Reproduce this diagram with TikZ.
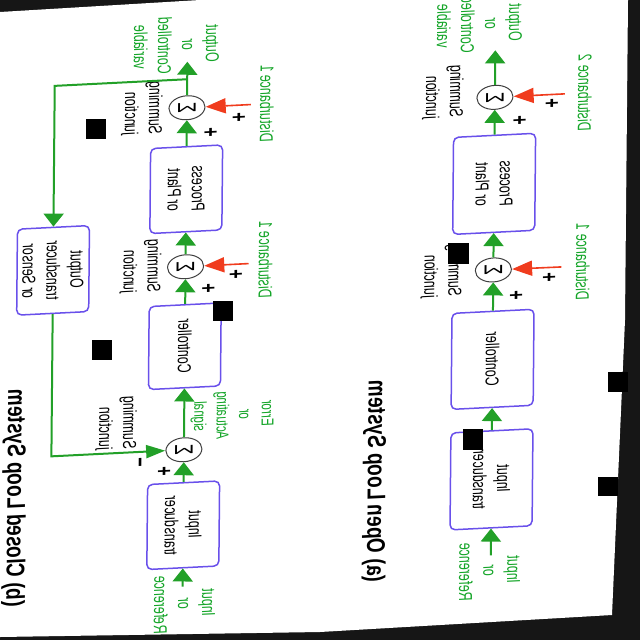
\documentclass[tikz,border=0pt]{standalone}
\usepackage{fontspec}
\setmainfont{Liberation Sans}
\usetikzlibrary{arrows.meta}

\definecolor{arrgreen}{RGB}{34,160,40}
\definecolor{lblgreen}{RGB}{20,165,40}
\definecolor{boxblue}{RGB}{105,80,235}
\definecolor{distred}{RGB}{240,60,30}
\definecolor{scanbg}{RGB}{22,22,22}

\tikzset{
	turned/.style={cm={0,1,1.5,0,(0,0)}},
	blk/.style={turned, draw=boxblue, line width=1.5pt, rounded corners=5pt, fill=white, inner sep=0pt, align=center, font=\fontsize{12.5}{16}\selectfont},
	oblk/.style={blk, minimum height=54.7pt},
	cblk/.style={blk, minimum height=48pt},
	sumj/.style={turned, circle, draw=black!75, line width=1pt, fill=white, inner sep=0pt, minimum size=24pt, font=\fontsize{17}{17}\selectfont},
	lbl/.style={turned, text=lblgreen, inner sep=0pt, align=center, font=\fontsize{12.5}{16}\selectfont},
	jlbl/.style={turned, inner sep=0pt, align=left, font=\fontsize{12.5}{16}\selectfont},
	sgn/.style={turned, inner sep=0pt, font=\fontsize{16}{16}\selectfont\bfseries},
	ttl/.style={cm={0,1,1.35,0,(0,0)}, inner sep=0pt, font=\fontsize{19}{19}\selectfont\bfseries},
	flow/.style={draw=arrgreen, line width=2pt, -{Triangle[length=13pt,width=20pt]}},
	fb/.style={draw=arrgreen, line width=2pt},
	fbin/.style={fb, -{Triangle[length=19pt,width=13pt]}},
	dist/.style={draw=distred, line width=1.6pt, -{Triangle[length=20pt,width=15pt]}},
}

\begin{document}
\begin{tikzpicture}[x=1pt, y=-1pt]
	\useasboundingbox (0,0) rectangle (640,640);
	\fill[scanbg] (0,0) rectangle (640,640);
	\fill[white] (0,12) -- (200,0) -- (628,0) -- (625,320) -- (612,615) -- (320,632) -- (0,637) -- cycle;

	\begin{scope}[cm={1,0.05,0.009,1,(2.88pt,-16pt)}, transform shape]
	% (a) open loop
	\node[ttl] (ottl) at (376,484) {(a) Open Loop System};
	\coordinate (oin) at (493,564);
	\node[lbl] (oinl) at (492,579.5) {Input\\or\\Reference};
	\node[oblk, minimum width=97pt] (oit) at (493,488) {Input\\transducer};
	\node[oblk, minimum width=96pt] (octl) at (493,368) {Controller};
	\node[sumj] (osj1) at (493,278.6) {Σ};
	\node[oblk, minimum width=97pt] (oproc) at (493,192.5) {Process\\or Plant};
	\node[sumj] (osj2) at (493,106) {Σ};
	\coordinate (oout) at (493,59);
	\node[lbl] (ooutl) at (477,32) {Output\\or\\Controlled\\variable};

	\node[jlbl] (osj1l) at (441,277) {Summing\\junction};
	\node[jlbl] (osj2l) at (441,98) {Summing\\junction};
	\coordinate (od1) at (561,279);
	\coordinate (od2) at (563,106);
	\node[lbl] (od1l) at (582.5,275) {Disturbance 1};
	\node[lbl] (od2l) at (583,106) {Disturbance 2};
	\node[sgn] (op1) at (515,305) {+};
	\node[sgn] (op2) at (548,289) {+};
	\node[sgn] (op3) at (517,130) {+};
	\node[sgn] (op4) at (549,115) {+};

	\draw[flow] (oin) -- (oit);
	\draw[flow] (oit) -- (octl);
	\draw[flow] (octl) -- (osj1);
	\draw[flow] (osj1) -- (oproc);
	\draw[flow] (oproc) -- (osj2);
	\draw[flow] (osj2) -- (oout);
	\draw[dist] (od1) -- (osj1);
	\draw[dist] (od2) -- (osj2);

	% (b) closed loop
	\node[ttl] (cttl) at (15.5,483) {(b) Closed Loop System};
	\coordinate (cin) at (185,580);
	\node[lbl] (cinl) at (187,597) {Input\\or\\Reference};
	\node[cblk, minimum width=85pt] (cit) at (185,518.5) {Input\\transducer};
	\node[sumj] (csj0) at (185,443) {Σ};
	\node[cblk, minimum width=83pt] (cctl) at (185,339.5) {Controller};
	\node[sumj] (csj1) at (185,260) {Σ};
	\node[cblk, minimum width=85pt] (cproc) at (185,182.5) {Process\\or Plant};
	\node[sumj] (csj2) at (185,101) {Σ};
	\coordinate (cbr) at (185,72.5);
	\coordinate (cout) at (185,55);
	\node[lbl] (coutl) at (174,38) {Output\\or\\Controlled\\variable};
	\node[cblk, minimum width=86pt] (cot) at (52.5,257) {Output\\transducer\\or Sensor};

	\node[jlbl] (csj0l) at (117,413) {Summing\\junction};
	\node[jlbl] (csj1l) at (140,257.5) {Summing\\junction};
	\node[jlbl] (csj2l) at (140,99.5) {Summing\\junction};
	\node[lbl, font=\fontsize{11.5}{15}\selectfont] (cerr) at (233,410.6) {Error\\or\\Actuating\\signal};
	\coordinate (cd1) at (248,260);
	\coordinate (cd2) at (249,101);
	\node[lbl] (cd1l) at (265,257) {Disturbance 1};
	\node[lbl] (cd2l) at (265,100.7) {Disturbance 1};
	\node[sgn] (cp0) at (164.4,464) {+};
	\node[sgn] (cm0) at (138,453) {−};
	\node[sgn] (cp1) at (207,283) {+};
	\node[sgn] (cp2) at (234.6,270) {+};
	\node[sgn] (cp3) at (208,126.5) {+};
	\node[sgn] (cp4) at (236,113) {+};

	\draw[flow] (cin) -- (cit);
	\draw[flow] (cit) -- (csj0);
	\draw[flow] (csj0) -- (cctl);
	\draw[flow] (cctl) -- (csj1);
	\draw[flow] (csj1) -- (cproc);
	\draw[flow] (cproc) -- (csj2);
	\draw[flow] (csj2) -- (cout);
	\draw[flow] (cbr) -| (cot);
	\draw[fbin] (cot) |- (csj0);
	\draw[dist] (cd1) -- (csj1);
	\draw[dist] (cd2) -- (csj2);
	\end{scope}

	% scan marks
	\fill[black] (86,119) rectangle ++(20,20);
	\fill[black] (213,301) rectangle ++(20,20);
	\fill[black] (92,340) rectangle ++(20,20);
	\fill[black] (448,243) rectangle ++(21,21);
	\fill[black] (463,429) rectangle ++(20,21);
	\fill[black] (608,372) rectangle ++(20,20);
	\fill[black] (598,477) rectangle ++(20,19);
\end{tikzpicture}
\end{document}
